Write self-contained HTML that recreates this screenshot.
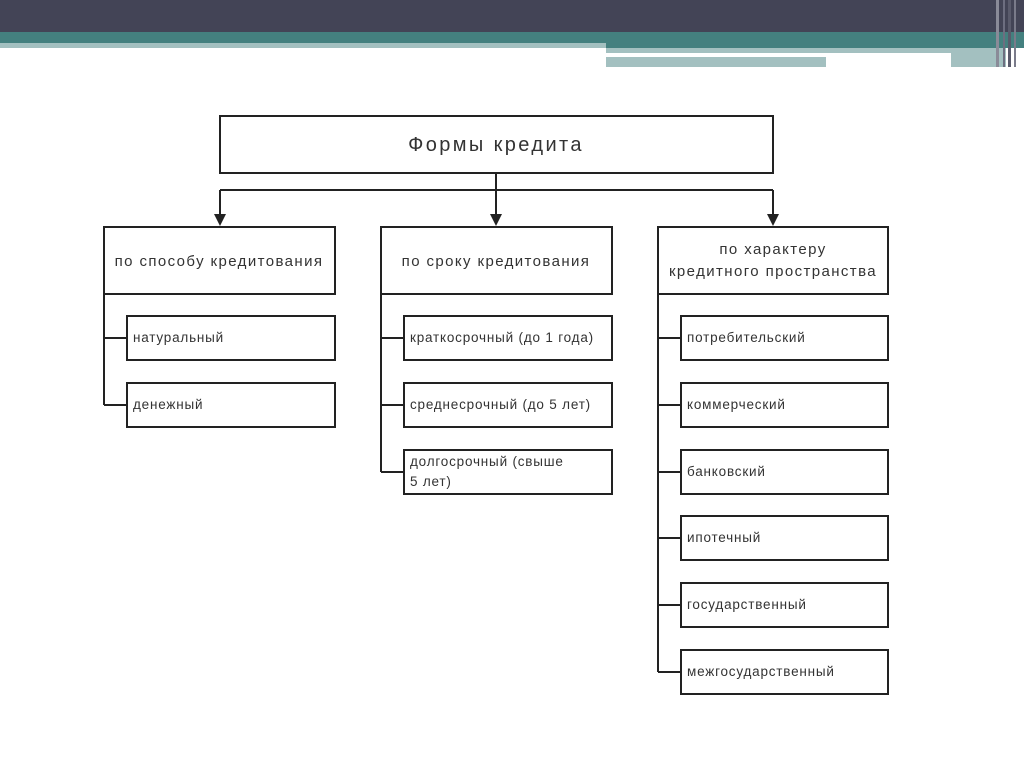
<!DOCTYPE html>
<html><head><meta charset="utf-8"><style>
html,body{margin:0;padding:0;background:#fff;}
body{width:1024px;height:767px;position:relative;overflow:hidden;}
svg text{font-family:"Liberation Sans","DejaVu Sans",sans-serif;fill:#333;}
</style></head><body>
<svg width="1024" height="767" viewBox="0 0 1024 767" xmlns="http://www.w3.org/2000/svg">
<rect x="0" y="0" width="1024" height="32" fill="#434456"/>
<rect x="0" y="32" width="1024" height="11" fill="#44807f"/>
<rect x="0" y="43" width="606" height="5" fill="#a3c0c0"/>
<rect x="606" y="43" width="418" height="5" fill="#44807f"/>
<rect x="606" y="48" width="400" height="5" fill="#a3c0c0"/>
<rect x="606" y="53" width="345" height="3" fill="#fff"/>
<rect x="606" y="57" width="220" height="10" fill="#a3c0c0"/>
<rect x="951" y="53" width="55" height="14" fill="#a3c0c0"/>
<rect x="996" y="0" width="3" height="67" fill="#8a8b98"/>
<rect x="1003" y="0" width="2" height="67" fill="#6d6e80"/>
<rect x="1008" y="0" width="3" height="67" fill="#5a5b6c"/>
<rect x="1014" y="0" width="2" height="67" fill="#7a7b8a"/>
<g stroke="#222" stroke-width="2" fill="none">
<rect x="220" y="116" width="553" height="57" fill="#fff"/>
<line x1="496" y1="173" x2="496" y2="216"/>
<line x1="220" y1="190" x2="773" y2="190"/>
<line x1="220" y1="190" x2="220" y2="216"/>
<line x1="773" y1="190" x2="773" y2="216"/>
<rect x="104" y="227" width="231" height="67"/>
<rect x="381" y="227" width="231" height="67"/>
<rect x="658" y="227" width="230" height="67"/>
<line x1="104" y1="294" x2="104" y2="405"/>
<line x1="381" y1="294" x2="381" y2="472"/>
<line x1="658" y1="294" x2="658" y2="672"/>
<rect x="127" y="316" width="208" height="44"/><line x1="104" y1="338" x2="127" y2="338"/>
<rect x="127" y="383" width="208" height="44"/><line x1="104" y1="405" x2="127" y2="405"/>
<rect x="404" y="316" width="208" height="44"/><line x1="381" y1="338" x2="404" y2="338"/>
<rect x="404" y="383" width="208" height="44"/><line x1="381" y1="405" x2="404" y2="405"/>
<rect x="404" y="450" width="208" height="44"/><line x1="381" y1="472" x2="404" y2="472"/>
<rect x="681" y="316" width="207" height="44"/><line x1="658" y1="338" x2="681" y2="338"/>
<rect x="681" y="383" width="207" height="44"/><line x1="658" y1="405" x2="681" y2="405"/>
<rect x="681" y="450" width="207" height="44"/><line x1="658" y1="472" x2="681" y2="472"/>
<rect x="681" y="516" width="207" height="44"/><line x1="658" y1="538" x2="681" y2="538"/>
<rect x="681" y="583" width="207" height="44"/><line x1="658" y1="605" x2="681" y2="605"/>
<rect x="681" y="650" width="207" height="44"/><line x1="658" y1="672" x2="681" y2="672"/>
</g>
<g fill="#222">
<polygon points="214,214 226,214 220,226"/>
<polygon points="490,214 502,214 496,226"/>
<polygon points="767,214 779,214 773,226"/>
</g>
<text x="496" y="151" font-size="20" letter-spacing="2.4" text-anchor="middle">Формы кредита</text>
<g font-size="15" letter-spacing="1.4" text-anchor="middle">
<text x="219" y="266">по способу кредитования</text>
<text x="496" y="266">по сроку кредитования</text>
<text x="773" y="254">по характеру</text>
<text x="773" y="276">кредитного пространства</text>
</g>
<g font-size="13.5" letter-spacing="0.8">
<text x="133" y="342">натуральный</text>
<text x="133" y="409">денежный</text>
<text x="410" y="342">краткосрочный (до 1 года)</text>
<text x="410" y="409">среднесрочный (до 5 лет)</text>
<text x="410" y="466">долгосрочный (свыше</text>
<text x="410" y="486">5 лет)</text>
<text x="687" y="342">потребительский</text>
<text x="687" y="409">коммерческий</text>
<text x="687" y="476">банковский</text>
<text x="687" y="542">ипотечный</text>
<text x="687" y="609">государственный</text>
<text x="687" y="676">межгосударственный</text>
</g>
</svg>
</body></html>
